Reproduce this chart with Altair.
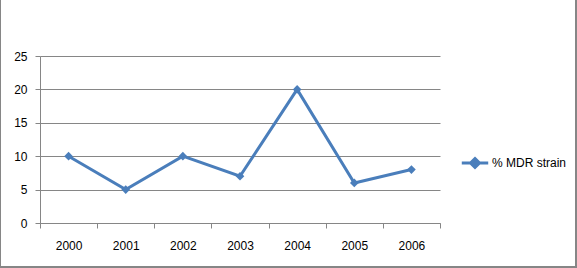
import altair as alt
import pandas as pd

years = ["2000", "2001", "2002", "2003", "2004", "2005", "2006"]
values = [10, 5, 10, 7, 20, 6, 8]
series = "% MDR strain"

df = pd.DataFrame({"year": years, "value": values, "series": [series] * len(years),
                   "idx": list(range(len(years)))})

FONT = "Liberation Sans"
GRAY = "#868686"
BLUE = "#4A7EBB"

legend_path = "M-1,0L1,0M0,-0.34L0.34,0L0,0.34L-0.34,0Z"

line = alt.Chart(df).mark_line(
    strokeWidth=3,
    point=alt.OverlayMarkDef(shape="diamond", size=75, filled=True, color=BLUE),
).encode(
    x=alt.X("year:N", title=None, sort=years,
            scale=alt.Scale(type="point", padding=0.5),
            axis=alt.Axis(orient="bottom", labelAngle=0, ticks=False, domain=False,
                          labelPadding=17, labelFont=FONT, labelFontSize=12,
                          labelColor="#000", grid=False)),
    y=alt.Y("value:Q", title=None,
            scale=alt.Scale(domain=[0, 25], nice=False),
            axis=alt.Axis(values=[0, 5, 10, 15, 20, 25], grid=True, gridColor=GRAY,
                          gridWidth=1, gridOpacity=1, domainColor=GRAY, tickColor=GRAY,
                          tickSize=5, labelPadding=8, labelFont=FONT, labelFontSize=12,
                          labelColor="#000")),
    color=alt.Color("series:N", title=None,
                    scale=alt.Scale(range=[BLUE]),
                    legend=alt.Legend(orient="none", legendX=420, legendY=92,
                                      symbolType=legend_path, symbolSize=700,
                                      symbolStrokeWidth=3, symbolStrokeColor=BLUE,
                                      symbolFillColor=BLUE, labelOffset=2,
                                      labelFont=FONT, labelFontSize=12,
                                      labelColor="#000", padding=0)),
)

ticks = alt.Chart(df).mark_point(opacity=0).encode(
    x=alt.X("idx:Q", title=None, scale=alt.Scale(domain=[-0.5, 6.5], nice=False, zero=False),
            axis=alt.Axis(orient="bottom", values=[-0.5, 0.5, 1.5, 2.5, 3.5, 4.5, 5.5, 6.5],
                          labels=False, tickSize=5, tickColor=GRAY, domainColor=GRAY,
                          grid=False)),
    y=alt.value(0),
)

frame = alt.Chart(df).mark_rect(fill=None, stroke=GRAY, strokeWidth=2).encode(
    x=alt.value(-40), x2=alt.value(536), y=alt.value(-57), y2=alt.value(211)
)

chart = alt.layer(ticks, line, frame).resolve_scale(x="independent").properties(
    width=400, height=167,
    autosize=alt.AutoSizeParams(type="none"),
    padding={"left": 40, "top": 56, "right": 137, "bottom": 45},
).configure(background="white", view=alt.ViewConfig(stroke=None, strokeWidth=0))

chart.save("out.html", embed_options={"renderer": "svg", "actions": False})
